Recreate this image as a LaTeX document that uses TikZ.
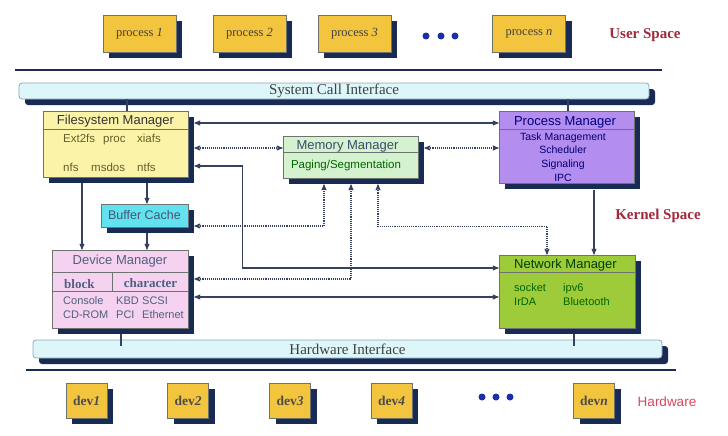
\documentclass[tikz,border=0pt]{standalone}
\usepackage{fontspec}
\setmainfont{Liberation Serif}
\setsansfont{Liberation Sans}
\usetikzlibrary{arrows,shadows}
\definecolor{procyel}{HTML}{F3C53F}
\definecolor{navy}{HTML}{172B55}
\definecolor{barcyan}{HTML}{DDF6FA}
\definecolor{barline}{HTML}{8FA7B0}
\definecolor{fsyel}{HTML}{FBF4A8}
\definecolor{bccyan}{HTML}{62E2EE}
\definecolor{dmpink}{HTML}{F4D2F0}
\definecolor{mmgreen}{HTML}{D4F2CE}
\definecolor{pmpurple}{HTML}{B48EEF}
\definecolor{nmgreen}{HTML}{9DCB3A}
\definecolor{boxline}{HTML}{6E7370}
\definecolor{linecol}{HTML}{34425F}
\definecolor{dotblue}{HTML}{1C2EA8}
\definecolor{userred}{HTML}{A3283A}
\definecolor{hwred}{HTML}{D8465A}
\tikzset{
  box/.style = {draw=boxline, line width=0.8pt, inner sep=0pt, align=center,
    drop shadow={shadow xshift=6pt, shadow yshift=-6pt, opacity=1, fill=navy}},
  procbox/.style = {box, fill=procyel, minimum width=73pt, minimum height=37pt,
    font=\fontsize{12.5}{15}\selectfont, text=black!75},
  devbox/.style = {box, fill=procyel, minimum width=41pt, minimum height=35pt,
    font=\bfseries\fontsize{13.5}{16}\selectfont, text=black!70},
  bar/.style = {box, fill=barcyan, draw=barline, rounded corners=3pt,
    font=\fontsize{15}{17}\selectfont, text=black!75},
  mgr/.style = {box, inner sep=0pt},% empty manager box
  divider/.style = {draw=boxline, line width=0.8pt},
  title/.style = {font=\sffamily\fontsize{13}{15}\selectfont, inner sep=0pt},
  item/.style = {font=\sffamily\fontsize{11}{14}\selectfont, inner sep=0pt},
  spacelabel/.style = {font=\bfseries\fontsize{15}{17}\selectfont, text=userred},
  sepline/.style = {draw=navy, line width=2.5pt},
}
\begin{document}
\begin{tikzpicture}[x=1pt,y=-1pt,>=stealth',
  conn/.style={draw=linecol, line width=1.1pt},
  dots/.style={conn, densely dotted}]
\useasboundingbox (0,0) rectangle (728,436);
% user space
\node[procbox] (p1) at (139.5,33.5) {process \textit{1}};
\node[procbox] (p2) at (249.5,33.5) {process \textit{2}};
\node[procbox] (p3) at (354.5,33.5) {process \textit{3}};
\node[procbox] (pn) at (529,33.5) {process \textit{n}};
\foreach \x in {426,441,455} \fill[dotblue] (\x,36) circle (3.5pt);
\node[spacelabel] (user) at (645,35) {User Space};
\draw[sepline] (15,70) -- (662,70);
% kernel space
\node[bar, minimum width=630pt, minimum height=16pt] (sci) at (334,91) {System Call Interface};
\node[mgr, fill=fsyel, minimum width=145pt, minimum height=66pt] (fs) at (115.5,144) {};
\draw[divider] ([yshift=-19pt]fs.north west) -- ([yshift=-19pt]fs.north east);
\node[title, text=black!80] (fsname) at ([yshift=-11pt]fs.north) {Filesystem Manager};
\node[item, anchor=west, text=olive!60!black, font=\sffamily\fontsize{11.5}{14}\selectfont] (fsrow1) at (63,140)
  {\makebox[40pt][l]{Ext2fs}\makebox[34pt][l]{proc}xiafs};
\node[item, anchor=west, text=olive!60!black, font=\sffamily\fontsize{11.5}{14}\selectfont] (fsrow2) at (63,167)
  {\makebox[28pt][l]{nfs}\makebox[46pt][l]{msdos}ntfs};
\node[box, fill=bccyan, minimum width=87pt, minimum height=23pt, text=navy!80,
  font=\sffamily\fontsize{12.5}{14}\selectfont] (bc) at (144.5,215.5) {Buffer Cache};
\node[mgr, fill=dmpink, minimum width=136pt, minimum height=78pt] (dm) at (120,289) {};
\draw[divider] ([yshift=-23pt]dm.north west) -- ([yshift=-23pt]dm.north east);
\draw[divider] ([yshift=-42pt]dm.north west) -- ([yshift=-42pt]dm.north east);
\draw[divider] ([xshift=61pt,yshift=-23pt]dm.north west) -- ([xshift=61pt,yshift=-42pt]dm.north west);
\node[title, text=navy!75] (dmname) at ([yshift=-12pt]dm.north) {Device Manager};
\node[inner sep=0pt, anchor=west, text=navy!75, font=\bfseries\fontsize{13}{15}\selectfont]
  (block) at (64,284) {block};
\node[inner sep=0pt, text=navy!75, font=\bfseries\fontsize{13}{15}\selectfont]
  (char) at (150.5,283) {character};
\node[item, anchor=west, text=navy!75] (devlist) at (63,309)
  {\begin{tabular}{@{}p{53pt}@{}p{26pt}@{}l@{}}Console & KBD & SCSI\\ CD-ROM & PCI & Ethernet\end{tabular}};
\node[mgr, fill=mmgreen, minimum width=135pt, minimum height=42pt] (mm) at (350.5,157) {};
\draw[divider] ([yshift=-17pt]mm.north west) -- ([yshift=-17pt]mm.north east);
\node[title, text=navy!85] (mmname) at (347.5,146) {Memory Manager};
\node[item, text=green!40!black, font=\sffamily\fontsize{11.5}{14}\selectfont] (paging) at (346,166) {Paging/Segmentation};
\node[mgr, fill=pmpurple, minimum width=135pt, minimum height=72pt] (pm) at (566.5,147) {};
\draw[divider] ([yshift=-19pt]pm.north west) -- ([yshift=-19pt]pm.north east);
\node[title, text=blue!50!black] (pmname) at (565,122) {Process Manager};
\node[item, align=center, text=blue!45!black, font=\sffamily\fontsize{10.5}{13.7}\selectfont]
  (pmlist) at (563,157) {Task Management\\Scheduler\\Signaling\\IPC};
\node[mgr, fill=nmgreen, minimum width=136pt, minimum height=73pt] (nm) at (567,291.5) {};
\draw[divider] ([yshift=-18pt]nm.north west) -- ([yshift=-18pt]nm.north east);
\node[title, text=green!25!black] (nmname) at (565.5,265) {Network Manager};
\node[item, anchor=west, text=green!40!black] (nmlist) at (514,295.5)
  {\begin{tabular}{@{}p{49pt}@{}l@{}}socket & ipv6\\ IrDA & Bluetooth\end{tabular}};
\node[spacelabel] (kernel) at (658,216) {Kernel Space};
% connections
\draw[conn] ([xshift=11.5pt]fs.north) -- ([xshift=11.5pt]fs.north |- sci.south);
\draw[conn] ([xshift=1.5pt]pm.north) -- ([xshift=1.5pt]pm.north |- sci.south);
\draw[conn,<->] ([xshift=6pt,yshift=21pt]fs.east) -- ([yshift=24pt]pm.west);
\draw[dots,<->] ([xshift=6pt,yshift=-4pt]fs.east) -- ([yshift=9pt]mm.west);
\draw[dots,<->] ([xshift=6pt,yshift=9pt]mm.east) -- ([yshift=-1pt]pm.west);
\draw[conn,<->] ([xshift=6pt,yshift=-22pt]fs.east) -- ++(48,0) |- ([yshift=23.5pt]nm.west);
\draw[conn,->] ([xshift=-33.5pt,yshift=-6pt]fs.south) -- ([xshift=-38pt]dm.north);
\draw[conn,->] ([xshift=31.5pt,yshift=-6pt]fs.south) -- ([xshift=2.5pt]bc.north);
\draw[conn,->] ([xshift=2.5pt,yshift=-6pt]bc.south) -- ([xshift=27pt]dm.north);
\draw[dots,<->] ([xshift=6pt,yshift=-10.5pt]bc.east) -| ([xshift=-26.5pt,yshift=-6pt]mm.south);
\draw[dots,<->] ([xshift=6pt,yshift=10pt]dm.east) -| ([xshift=0.5pt,yshift=-6pt]mm.south);
\draw[dots,<->] ([xshift=27.5pt,yshift=-6pt]mm.south) -- ++(0,42) -| ([xshift=-20pt]nm.north);
\draw[conn,->] ([xshift=27.5pt,yshift=-7pt]pm.south) -- ([xshift=27pt]nm.north);
\draw[conn,<->] ([xshift=6pt,yshift=-8pt]dm.east) -- ([yshift=-5.5pt]nm.west);
% hardware
\node[bar, minimum width=629pt, minimum height=18pt] (hi) at (347.5,349) {Hardware Interface};
\draw[conn] ([xshift=1pt,yshift=-6pt]dm.south) -- ([xshift=1pt,yshift=-6pt]dm.south |- hi.north);
\draw[conn] ([xshift=7pt,yshift=-6pt]nm.south) -- ([xshift=7pt,yshift=-6pt]nm.south |- hi.north);
\draw[sepline] (26,370) -- (676,370);
\node[devbox] (d1) at (86.5,400.5) {dev\textit{1}};
\node[devbox] (d2) at (188,400.5) {dev\textit{2}};
\node[devbox] (d3) at (290,400.5) {dev\textit{3}};
\node[devbox] (d4) at (391.5,400.5) {dev\textit{4}};
\node[devbox] (dn) at (594,400.5) {dev\textit{n}};
\foreach \x in {482,496,510} \fill[dotblue] (\x,397) circle (3.5pt);
\node[font=\sffamily\fontsize{13.5}{16}\selectfont, text=hwred] (hw) at (667,402) {Hardware};
\end{tikzpicture}
\end{document}
